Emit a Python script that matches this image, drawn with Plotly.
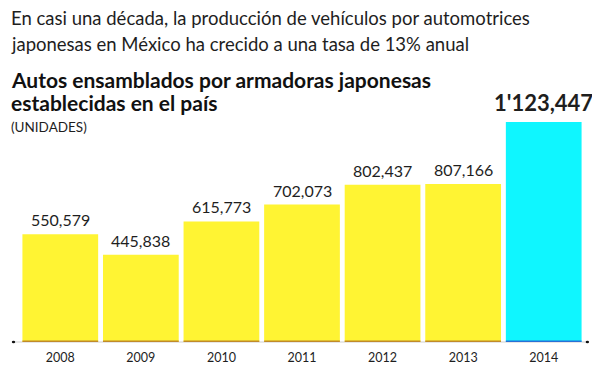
import plotly.graph_objects as go

years = ["2008", "2009", "2010", "2011", "2012", "2013", "2014"]
values = [550579, 445838, 615773, 702073, 802437, 807166, 1123447]
labels = ["550,579", "445,838", "615,773", "702,073", "802,437", "807,166", "1'123,447"]
highlight = "2014"

YELLOW = "#FFF433"
CYAN = "#0FF6FF"
FONT = "Lato"
TXT = "#1e1e1e"

colors = [CYAN if y == highlight else YELLOW for y in years]

fig = go.Figure()
fig.add_trace(go.Bar(
    x=years, y=values, marker=dict(color=colors, line=dict(width=0)),
    width=0.94, hoverinfo="skip"
))

# value labels (x given as category index so numeric-looking names are not misread)
for i, (y, v, lab) in enumerate(zip(years, values, labels)):
    big = (y == highlight)
    fig.add_annotation(
        x=i, y=v, xref="x", yref="y", text=("<b>%s</b>" % lab) if big else lab,
        showarrow=False, yanchor="bottom", yshift=4 if big else 3,
        font=dict(family=FONT, size=22 if big else 16, color=TXT),
    )

# bottom edge lines of bars
for i, y in enumerate(years):
    fig.add_shape(type="line", xref="x", yref="y", x0=i - 0.47, x1=i + 0.47, y0=0, y1=0,
                  line=dict(color="#2a6fd6" if y == highlight else "#c08a2a", width=3))

# baseline with end dots
fig.add_shape(type="line", xref="paper", yref="paper", x0=-0.0115, x1=1.006, y0=0, y1=0,
              line=dict(color="#cfcfcf", width=1), layer="below")
for xd in (-0.0115, 1.006):
    fig.add_shape(type="circle", xref="paper", yref="paper", x0=xd - 0.003, x1=xd + 0.003,
                  y0=-0.006, y1=0.006, fillcolor="#111", line=dict(width=0))

# header texts
hdr = [
    ("En casi una década, la producción de vehículos por automotrices", 104, 18.5, False),
    ("japonesas en México ha crecido a una tasa de 13% anual", 78, 18.5, False),
    ("Autos ensamblados por armadoras japonesas", 43, 21, True),
    ("establecidas en el país", 20, 21, True),
    ("(UNIDADES)", -5, 13.5, False),
]
for txt, ys, sz, bold in hdr:
    fig.add_annotation(xref="paper", yref="paper", x=-0.02, y=1.0, yshift=ys,
                       xanchor="left", yanchor="middle",
                       text=("<b>%s</b>" % txt) if bold else txt, showarrow=False,
                       font=dict(family=FONT, size=sz, color="#111" if bold else TXT))

fig.update_layout(
    width=600, height=374,
    margin=dict(l=11.5, r=23.5, t=114, b=40),
    paper_bgcolor="white", plot_bgcolor="white",
    showlegend=False, bargap=0.06,
    xaxis=dict(type="category", showgrid=False, showline=False, zeroline=False, ticks="",
               range=[-0.5, len(years) - 0.5], autorange=False,
               ticklabelstandoff=6,
               tickfont=dict(family=FONT, size=12.5, color=TXT)),
    yaxis=dict(visible=False, range=[0, max(values)], autorange=False),
)

fig.write_html("out.html")
